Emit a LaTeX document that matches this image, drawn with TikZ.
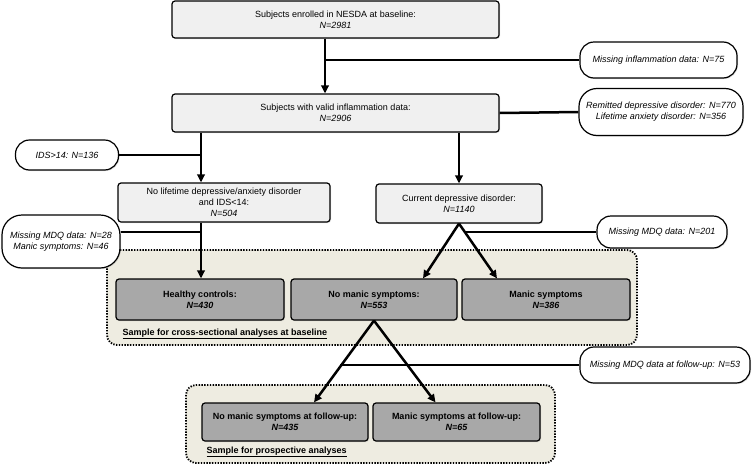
\documentclass[tikz,border=0pt]{standalone}
\usepackage{fontspec}
\setmainfont{Liberation Sans}
\usetikzlibrary{arrows.meta, shadows, calc}

\definecolor{boxlight}{HTML}{F0F0F0}
\definecolor{boxdark}{HTML}{A8A8A8}
\definecolor{samplebeige}{HTML}{EEECE1}

\begin{document}
\begin{tikzpicture}[x=1pt, y=-1pt,
    lightbox/.style={draw, line width=1.2pt, rounded corners=3pt, fill=boxlight, align=center,
        font=\fontsize{9}{11}\selectfont, inner sep=2pt,
        drop shadow={opacity=0.25, shadow xshift=1pt, shadow yshift=-1pt}},
    darkbox/.style={lightbox, fill=boxdark, font=\fontsize{9}{11}\selectfont\bfseries},
    pill/.style={draw, line width=1.2pt, rounded corners=14pt, fill=white, align=center,
        font=\fontsize{9}{11}\selectfont\itshape, inner sep=2pt,
        drop shadow={opacity=0.25, shadow xshift=1pt, shadow yshift=-1pt}},
    link/.style={line width=2.5pt},
    arr/.style={link, -{Triangle[length=8pt, width=7.5pt]}},
    sample/.style={draw, line width=1.8pt, dash pattern=on 1.4pt off 1.4pt, rounded corners=10pt, fill=samplebeige},
    samplelabel/.style={anchor=west, font=\fontsize{9}{11}\selectfont\bfseries}
]
    \useasboundingbox (0,0) rectangle (752,466);

    % Samples (dotted groups)
    \draw[sample] (107,250) rectangle (637,345);
    \node[samplelabel] (crossLabel) at (119,334) {\underline{Sample for cross-sectional analyses at baseline}};
    \draw[sample] (186,385) rectangle (555,463);
    \node[samplelabel] (prosLabel) at (203,452) {\underline{Sample for prospective analyses}};

    % Main boxes
    \node[lightbox, minimum width=327pt, minimum height=37pt] (enrolled) at (335.5,19.5)
        {Subjects enrolled in NESDA at baseline:\\ \textit{N=2981}};
    \node[lightbox, minimum width=327pt, minimum height=38pt] (valid) at (335.5,113)
        {Subjects with valid inflammation data:\\ \textit{N=2906}};
    \node[lightbox, minimum width=212pt, minimum height=39pt] (noLife) at (224,202.5)
        {No lifetime depressive/anxiety disorder\\ and IDS<14:\\ \textit{N=504}};
    \node[lightbox, minimum width=166pt, minimum height=39pt] (current) at (459,203.5)
        {Current depressive disorder:\\ \textit{N=1140}};

    % Sample boxes
    \node[darkbox, minimum width=168pt, minimum height=41pt] (healthy) at (200,299.5)
        {Healthy controls:\\ \textit{N=430}};
    \node[darkbox, minimum width=166pt, minimum height=41pt] (noManic) at (374,299.5)
        {No manic symptoms:\\ \textit{N=553}};
    \node[darkbox, minimum width=168pt, minimum height=41pt] (manic) at (546,299.5)
        {Manic symptoms\\ \textit{N=386}};
    \node[darkbox, minimum width=166pt, minimum height=38pt] (noManicFU) at (285,422)
        {No manic symptoms at follow-up:\\ \textit{N=435}};
    \node[darkbox, minimum width=167pt, minimum height=38pt] (manicFU) at (456.5,422)
        {Manic symptoms at follow-up:\\ \textit{N=65}};

    % Exclusions
    \node[pill, minimum width=157pt, minimum height=36pt] (missInfl) at (658.5,60)
        {Missing inflammation data: N=75};
    \node[pill, rounded corners=18pt, minimum width=164pt, minimum height=47pt] (remitted) at (661,112)
        {Remitted depressive disorder: N=770\\ Lifetime anxiety disorder: N=356};
    \node[pill, minimum width=103pt, minimum height=30pt] (ids) at (67,155)
        {IDS>14: N=136};
    \node[pill, rounded corners=20pt, minimum width=118pt, minimum height=53pt] (missMdqA) at (61,241.5)
        {Missing MDQ data: N=28\\ Manic symptoms: N=46};
    \node[pill, minimum width=130pt, minimum height=32pt] (missMdqB) at (662,232)
        {Missing MDQ data: N=201};
    \node[pill, minimum width=170pt, minimum height=36pt] (missFU) at (665,365)
        {Missing MDQ data at follow-up: N=53};

    % Columns of the vertical connectors
    \coordinate (colA) at (325,0);
    \coordinate (colL) at (201,0);
    \coordinate (jA) at (201,232);
    \coordinate (noManicIn) at ($(noManic.north)+(49,0)$);
    \coordinate (manicIn) at ($(manic.north)+(-49,0)$);
    \coordinate (fuNoIn) at ($(noManicFU.north)+(29,0)$);
    \coordinate (fuYesIn) at ($(manicFU.north)+(-21,0)$);
    \coordinate (mB) at ($(current.south)!0.15!(manicIn)$);
    \coordinate (mF) at ($(noManic.south)!0.56!(fuNoIn)$);

    % Connectors
    \draw[arr] (enrolled.south -| colA) -- (valid.north -| colA);
    \draw[link] (missInfl.west) -- (missInfl.west -| colA);
    \draw[link] (valid.east) -- (remitted.west);
    \draw[arr] (valid.south -| colL) -- (noLife.north -| colL);
    \draw[arr] (valid.south -| current.north) -- (current.north);
    \draw[link] (ids.east) -- (ids.east -| colL);
    \draw[arr] (noLife.south -| colL) -- (healthy.north -| colL);
    \draw[link] (missMdqA.east |- jA) -- (jA);
    \draw[arr] (current.south) -- (noManicIn);
    \draw[arr] (current.south) -- (manicIn);
    \draw[link] (missMdqB.west) -- (missMdqB.west -| mB);
    \draw[arr] (noManic.south) -- (fuNoIn);
    \draw[arr] (noManic.south) -- (fuYesIn);
    \draw[link] (missFU.west) -- (missFU.west -| mF);
\end{tikzpicture}
\end{document}
